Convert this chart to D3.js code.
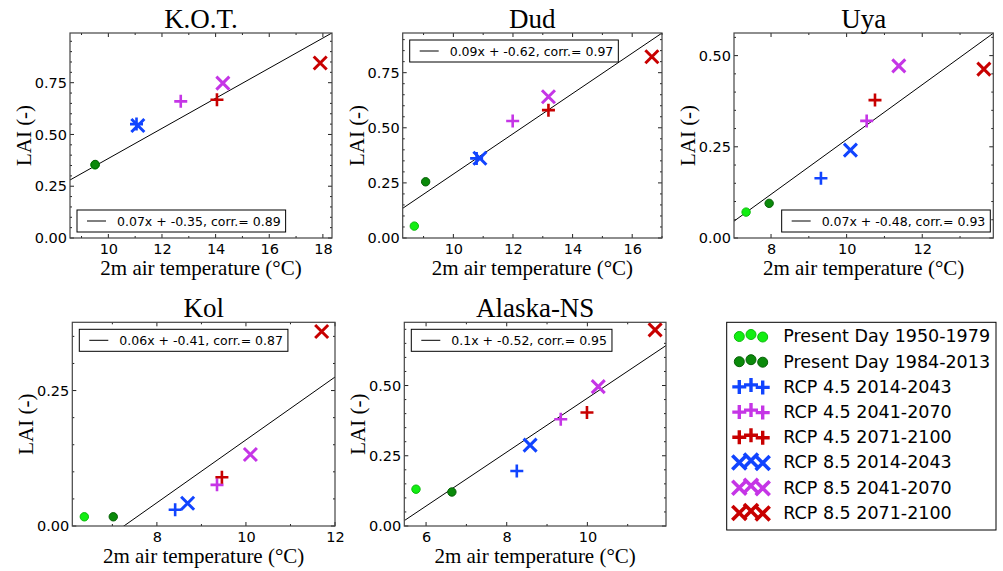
<!DOCTYPE html>
<html>
<head>
<meta charset="utf-8">
<script src="https://cdn.jsdelivr.net/npm/d3@7"></script>
<style>
  html, body { margin: 0; padding: 0; background: #fff; }
  svg { display: block; }
</style>
</head>
<body>
<svg id="chart" width="1003" height="571"></svg>
<script>
// ---------------- DATA ----------------
const sites = ["K.O.T.", "Dud", "Uya", "Kol", "Alaska-NS"];
const seriesNames = [
  "Present Day 1950-1979", "Present Day 1984-2013",
  "RCP 4.5 2014-2043", "RCP 4.5 2041-2070", "RCP 4.5 2071-2100",
  "RCP 8.5 2014-2043", "RCP 8.5 2041-2070", "RCP 8.5 2071-2100"
];
// 2m air temperature (°C) per site, for each period
const tempPD1950 = [9.50, 8.69, 7.34, 6.37, 5.75];
const tempPD1984 = [9.51, 9.07, 7.95, 7.02, 6.64];
const tempR45a   = [11.05, 10.78, 9.32, 8.41, 8.25];
const tempR45b   = [12.70, 11.99, 10.53, 9.35, 9.34];
const tempR45c   = [14.05, 13.19, 10.75, 9.46, 9.99];
const tempR85a   = [11.10, 10.89, 10.10, 8.69, 8.58];
const tempR85b   = [14.27, 13.19, 11.38, 10.10, 10.27];
const tempR85c   = [17.90, 16.66, 13.63, 11.70, 11.68];
// LAI (-) per site, for each period
const laiPD1950 = [0.353, 0.054, 0.071, 0.017, 0.131];
const laiPD1984 = [0.355, 0.255, 0.095, 0.017, 0.121];
const laiR45a   = [0.550, 0.361, 0.164, 0.030, 0.196];
const laiR45b   = [0.660, 0.531, 0.321, 0.076, 0.380];
const laiR45c   = [0.668, 0.580, 0.378, 0.090, 0.404];
const laiR85a   = [0.543, 0.362, 0.241, 0.042, 0.288];
const laiR85b   = [0.748, 0.641, 0.472, 0.132, 0.496];
const laiR85c   = [0.845, 0.822, 0.463, 0.359, 0.698];
// regression fits
const fitSlope     = [0.0727, 0.0914, 0.0751, 0.058, 0.096];
const fitIntercept = [-0.343, -0.624, -0.481, -0.421, -0.505];
const slopeLabels     = ["0.07", "0.09", "0.07", "0.06", "0.1"];
const interceptLabels = ["-0.35", "-0.62", "-0.48", "-0.41", "-0.52"];
const corrLabels      = ["0.89", "0.97", "0.93", "0.87", "0.95"];
// axis ticks
const xTickValues = [[10,12,14,16,18],[10,12,14,16],[8,10,12],[8,10,12],[6,8,10]];
const yTickValues = [[0,0.25,0.5,0.75],[0,0.25,0.5,0.75],[0,0.25,0.5],[0,0.25],[0,0.25,0.5]];

const allTemp = [tempPD1950, tempPD1984, tempR45a, tempR45b, tempR45c, tempR85a, tempR85b, tempR85c];
const allLai  = [laiPD1950, laiPD1984, laiR45a, laiR45b, laiR45c, laiR85a, laiR85b, laiR85c];

// ---------------- STYLE / LAYOUT ----------------
const colors = ["#12ee12", "#0a8a0a", "#1144ff", "#c535e6", "#c80000", "#1144ff", "#c535e6", "#c80000"];
const edgeColors = ["#0bbb0b", "#056005"];
const shapes = ["circle", "circle", "plus", "plus", "plus", "cross", "cross", "cross"];

const layout = [
  {x0: 70,    x1: 332,   y0: 33,    y1: 238, xd: [8.57, 18.34], yd: [0, 0.99],  loc: "ll"},
  {x0: 402.7, x1: 662,   y0: 33,    y1: 238, xd: [8.30, 17.0],  yd: [0, 0.93],  loc: "ul"},
  {x0: 734,   x1: 993.3, y0: 33,    y1: 238, xd: [7.02, 13.88], yd: [0, 0.562], loc: "lr"},
  {x0: 72.3,  x1: 335,   y0: 322.3, y1: 526, xd: [6.10, 12.0],  yd: [0, 0.376], loc: "ul"},
  {x0: 404.3, x1: 666,   y0: 322.3, y1: 526, xd: [5.46, 11.95], yd: [0, 0.725], loc: "ul"}
];

const svg = d3.select("#chart");
const sans = "'DejaVu Sans', sans-serif";
const serif = "'Liberation Serif', 'Times New Roman', serif";

function drawMarker(g, shape, cx, cy, i, legend) {
  if (shape === "circle") {
    g.append("circle").attr("cx", cx).attr("cy", cy).attr("r", legend ? 5 : 4.2)
      .attr("fill", colors[i]).attr("stroke", edgeColors[i]).attr("stroke-width", 1);
  } else if (shape === "plus") {
    const s = legend ? 7 : 6.5;
    g.append("path").attr("d", `M${cx - s},${cy}H${cx + s}M${cx},${cy - s}V${cy + s}`)
      .attr("stroke", colors[i]).attr("stroke-width", legend ? 3.4 : 2.6).attr("fill", "none");
  } else {
    const s = legend ? 7 : 6.5;
    g.append("path").attr("d", `M${cx - s},${cy - s}L${cx + s},${cy + s}M${cx - s},${cy + s}L${cx + s},${cy - s}`)
      .attr("stroke", colors[i]).attr("stroke-width", legend ? 3.6 : 3).attr("fill", "none");
  }
}

layout.forEach((L, p) => {
  const g = svg.append("g");
  const x = d3.scaleLinear().domain(L.xd).range([L.x0, L.x1]);
  const y = d3.scaleLinear().domain(L.yd).range([L.y1, L.y0]);

  // clip
  const clipId = "clip" + p;
  svg.append("clipPath").attr("id", clipId).append("rect")
    .attr("x", L.x0).attr("y", L.y0).attr("width", L.x1 - L.x0).attr("height", L.y1 - L.y0);

  // ticks (inward, all sides)
  const tg = g.append("g").attr("stroke", "#222").attr("stroke-width", 1);
  const xMinor = d3.range(Math.ceil(L.xd[0]), Math.floor(L.xd[1]) + 1, 1);
  const yMinor = d3.range(0, L.yd[1] + 1e-9, 0.05);
  xMinor.forEach(v => {
    const major = xTickValues[p].includes(v);
    const len = major ? 4 : 2;
    tg.append("line").attr("x1", x(v)).attr("x2", x(v)).attr("y1", L.y1).attr("y2", L.y1 - len);
    tg.append("line").attr("x1", x(v)).attr("x2", x(v)).attr("y1", L.y0).attr("y2", L.y0 + len);
  });
  yMinor.forEach(v => {
    const major = yTickValues[p].some(t => Math.abs(t - v) < 1e-6);
    const len = major ? 4 : 2;
    tg.append("line").attr("y1", y(v)).attr("y2", y(v)).attr("x1", L.x0).attr("x2", L.x0 + len);
    tg.append("line").attr("y1", y(v)).attr("y2", y(v)).attr("x1", L.x1).attr("x2", L.x1 - len);
  });

  // tick labels via d3 axes (lines hidden)
  const xAxis = d3.axisBottom(x).tickValues(xTickValues[p]).tickSize(0).tickPadding(0).tickFormat(d3.format("d"));
  const xa = g.append("g").attr("transform", `translate(0,${L.y1})`).call(xAxis);
  xa.select(".domain").remove();
  xa.selectAll("text").attr("font-family", sans).attr("font-size", 14.5).attr("fill", "#000")
    .attr("dy", null).attr("y", 15.5);

  const yAxis = d3.axisLeft(y).tickValues(yTickValues[p]).tickSize(0).tickPadding(3).tickFormat(d3.format(".2f"));
  const ya = g.append("g").attr("transform", `translate(${L.x0},0)`).call(yAxis);
  ya.select(".domain").remove();
  ya.selectAll("text").attr("font-family", sans).attr("font-size", 14.5).attr("fill", "#000");

  // regression line
  const fx0 = L.xd[0], fx1 = L.xd[1];
  const line = d3.line().x(d => x(d[0])).y(d => y(d[1]));
  g.append("path")
    .datum([[fx0, fitSlope[p] * fx0 + fitIntercept[p]], [fx1, fitSlope[p] * fx1 + fitIntercept[p]]])
    .attr("d", line).attr("stroke", "#000").attr("stroke-width", 1).attr("fill", "none")
    .attr("clip-path", `url(#${clipId})`);

  // markers
  const mg = g.append("g");
  allTemp.forEach((arr, i) => {
    drawMarker(mg, shapes[i], x(arr[p]), y(allLai[i][p]), i, false);
  });

  // frame
  g.append("rect").attr("x", L.x0).attr("y", L.y0).attr("width", L.x1 - L.x0).attr("height", L.y1 - L.y0)
    .attr("fill", "none").attr("stroke", "#444").attr("stroke-width", 1.2);

  // regression legend box
  const lg = g.append("g");
  const label = `${slopeLabels[p]}x + ${interceptLabels[p]}, corr.= ${corrLabels[p]}`;
  const txt = lg.append("text").text(label).attr("font-family", sans).attr("font-size", 12.5).attr("fill", "#000");
  const tw = txt.node().getComputedTextLength();
  const bw = 40 + tw + 5, bh = 22;
  let bx, by;
  if (L.loc === "ll") { bx = L.x0 + 7; by = L.y1 - 6 - bh; }
  else if (L.loc === "lr") { bx = L.x1 - 3 - bw; by = L.y1 - 6 - bh; }
  else { bx = L.x0 + 7; by = L.y0 + 7; }
  lg.insert("rect", "text").attr("x", bx).attr("y", by).attr("width", bw).attr("height", bh)
    .attr("fill", "#fff").attr("stroke", "#000").attr("stroke-width", 1);
  lg.append("line").attr("x1", bx + 10).attr("x2", bx + 29).attr("y1", by + bh / 2).attr("y2", by + bh / 2)
    .attr("stroke", "#000").attr("stroke-width", 1);
  txt.attr("x", bx + 40).attr("y", by + bh / 2).attr("dy", "0.36em");

  // title
  g.append("text").text(sites[p]).attr("x", (L.x0 + L.x1) / 2).attr("y", L.y0 - 5)
    .attr("text-anchor", "middle").attr("font-family", serif).attr("font-size", 27).attr("fill", "#000");
  // x label
  g.append("text").text("2m air temperature (°C)").attr("x", (L.x0 + L.x1) / 2).attr("y", L.y1 + 36.5)
    .attr("text-anchor", "middle").attr("font-family", serif).attr("font-size", 21).attr("fill", "#000");
  // y label
  const ylx = L.x0 - 39, yly = (L.y0 + L.y1) / 2;
  g.append("text").text("LAI (-)").attr("transform", `translate(${ylx},${yly}) rotate(-90)`)
    .attr("text-anchor", "middle").attr("font-family", serif).attr("font-size", 21).attr("fill", "#000");
});

// ---------------- MAIN LEGEND ----------------
const leg = svg.append("g");
leg.append("rect").attr("x", 726.7).attr("y", 322.3).attr("width", 269.3).attr("height", 207.7)
  .attr("fill", "#fff").attr("stroke", "#000").attr("stroke-width", 1);
const mx = [739.3, 751, 762.7];
const myOff = [0.5, -1.5, 1];
seriesNames.forEach((name, i) => {
  const cy = 336 + i * 25.2;
  mx.forEach((xx, k) => drawMarker(leg, shapes[i], xx, cy + myOff[k], i, true));
  leg.append("text").text(name).attr("x", 783.3).attr("y", cy).attr("dy", "0.36em")
    .attr("font-family", sans).attr("font-size", 17.5).attr("fill", "#000");
});
</script>
</body>
</html>
